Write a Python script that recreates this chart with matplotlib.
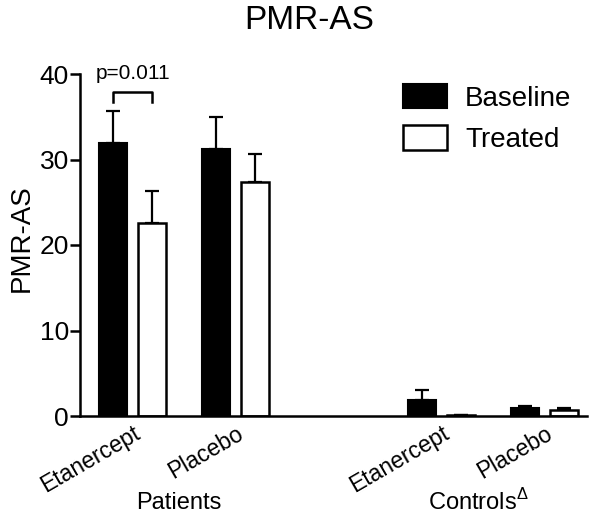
import matplotlib
matplotlib.use('Agg')
import matplotlib.pyplot as plt
import matplotlib.transforms as mtransforms
import numpy as np

plt.rcParams['font.family'] = ['Liberation Sans', 'DejaVu Sans']
plt.rcParams['mathtext.fontset'] = 'custom'
plt.rcParams['mathtext.rm'] = 'Liberation Sans'

# data
groups = ['Etanercept', 'Placebo', 'Etanercept', 'Placebo']
group_pos = [0, 1, 3, 4]
baseline = [31.9, 31.2, 1.9, 0.9]
baseline_err = [3.8, 3.8, 1.1, 0.3]
treated = [22.6, 27.4, 0.15, 0.7]
treated_err = [3.7, 3.2, 0.0, 0.2]
p_text = 'p=0.011'

fig = plt.figure(figsize=(6, 5.16), dpi=100)
ax = fig.add_axes([80/600, 1-416/516, 507/600, 342/516])

x = np.array(group_pos, dtype=float)
off = 0.19
w = 0.27
ekw = dict(elinewidth=1.6, capthick=1.6, ecolor='black')
ax.bar(x - off, baseline, w, color='black', edgecolor='black', linewidth=1.5,
       label='Baseline', zorder=2)
ax.errorbar(x - off, baseline, yerr=[np.zeros(4), baseline_err], fmt='none',
            capsize=5, zorder=1, **ekw)
ax.bar(x + off, treated, w, color='white', edgecolor='black', linewidth=1.8,
       label='Treated', zorder=2)
ax.errorbar(x + off, treated, yerr=[np.zeros(4), treated_err], fmt='none',
            capsize=5, zorder=1, **ekw)

ax.set_xlim(-0.51, 4.41)
ax.set_ylim(0, 40)
ax.set_yticks([0, 10, 20, 30, 40])
ax.tick_params(axis='y', labelsize=19, length=7, width=1.8, pad=1)
ax.set_xticks(x)
ax.set_xticklabels(groups, rotation=30, ha='right', va='top',
                   rotation_mode='anchor', fontsize=16.5)
ax.tick_params(axis='x', length=0, pad=4)
for s in ['top', 'right']:
    ax.spines[s].set_visible(False)
for s in ['left', 'bottom']:
    ax.spines[s].set_linewidth(1.8)

# significance bracket
bx0, bx1 = x[0] - off, x[0] + off
ax.plot([bx0, bx0, bx1, bx1], [36.7, 37.9, 37.9, 36.7], color='black',
        lw=1.8, clip_on=False)
ax.text((bx0 + bx1) / 2, 38.9, p_text, ha='center', va='bottom', fontsize=15)

trans = mtransforms.blended_transform_factory(ax.transData, ax.transAxes)
ax.text(0.45, -0.255, 'Patients', transform=trans, ha='center', va='center',
        fontsize=17)
ax.text(3.36, -0.25, r'Controls$^{\mathregular{Δ}}$', transform=trans,
        ha='center', va='center', fontsize=17)

ax.legend(loc='upper left', bbox_to_anchor=(0.637, 0.972), frameon=False,
          fontsize=20, handlelength=1.58, handleheight=1.0,
          handletextpad=0.65, labelspacing=0.5, borderpad=0, borderaxespad=0)

fig.text(0.516, 0.961, 'PMR-AS', ha='center', va='center', fontsize=24)
fig.text(0.037, 0.539, 'PMR-AS', ha='center', va='center', rotation=90,
         fontsize=20)

fig.savefig('out.png', dpi=100)
